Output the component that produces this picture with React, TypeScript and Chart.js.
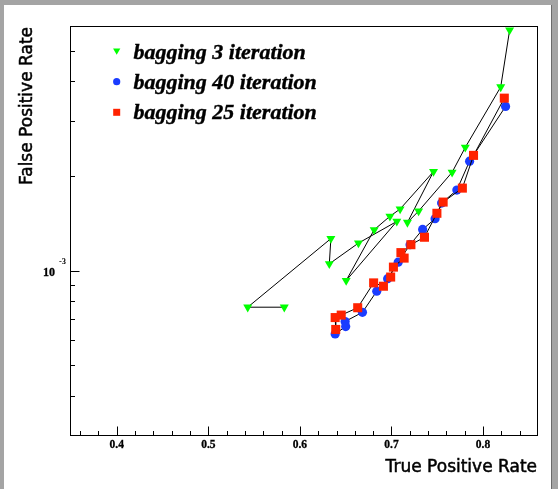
import React, { useEffect, useRef } from "react";
import { Chart, registerables } from "chart.js";

Chart.register(...registerables);

// ---- data ----
const bag3TPR = [0.829, 0.8193, 0.7806, 0.7662, 0.7296, 0.7174, 0.7459, 0.7094, 0.6983, 0.6811, 0.6505, 0.7058, 0.6639, 0.6321, 0.6338, 0.543, 0.5829];
const bag3FPR = [5.82e-3, 3.84e-3, 2.466e-3, 2.055e-3, 1.547e-3, 1.423e-3, 2.066e-3, 1.57e-3, 1.489e-3, 1.349e-3, 9.3e-4, 1.434e-3, 1.223e-3, 1.051e-3, 1.264e-3, 7.65e-4, 7.65e-4];

const bag40TPR = [0.8246, 0.7853, 0.7714, 0.7547, 0.7476, 0.734, 0.7203, 0.7073, 0.6958, 0.6839, 0.6683, 0.6494, 0.65, 0.6385];
const bag40FPR = [3.329e-3, 2.23e-3, 1.804e-3, 1.64e-3, 1.463e-3, 1.352e-3, 1.209e-3, 1.064e-3, 9.43e-4, 8.6e-4, 7.37e-4, 6.89e-4, 6.64e-4, 6.29e-4];

const bag25TPR = [0.8232, 0.7896, 0.7774, 0.7564, 0.7496, 0.736, 0.7212, 0.7103, 0.7138, 0.7021, 0.6991, 0.6912, 0.6805, 0.6631, 0.6451, 0.6385, 0.6391];
const bag25FPR = [3.537e-3, 2.326e-3, 1.83e-3, 1.652e-3, 1.522e-3, 1.277e-3, 1.209e-3, 1.141e-3, 1.096e-3, 1.026e-3, 9.54e-4, 8.92e-4, 9.14e-4, 7.62e-4, 7.22e-4, 7.09e-4, 6.5e-4];

const seriesLabels = ["bagging 3 iteration", "bagging 40 iteration", "bagging 25 iteration"];
const seriesColors = ["#00ff00", "#1a3cff", "#ff2200"];

const xMajorTicks = [0.4, 0.5, 0.6, 0.7, 0.8];
const xTickLabels = ["0.4", "0.5", "0.6", "0.7", "0.8"];
const xMinorTicks = [0.36, 0.38, 0.42, 0.44, 0.46, 0.48, 0.52, 0.54, 0.56, 0.58, 0.62, 0.64, 0.66, 0.68, 0.72, 0.74, 0.76, 0.78, 0.82, 0.84];
const yMajorTicks = [1e-3];
const yTickBase = ["10"];
const yTickExp = ["-3"];
const yMinorTicks = [4e-4, 5e-4, 6e-4, 7e-4, 8e-4, 9e-4, 2e-3, 3e-3, 4e-3, 5e-3];

const xTitle = "True Positive Rate";
const yTitle = "False Positive Rate";

const W = 558;
const H = 489;

function drawMarker(ctx: CanvasRenderingContext2D, kind: string, x: number, y: number, r: number, color: string) {
  ctx.fillStyle = color;
  ctx.beginPath();
  if (kind === "tri") {
    const h = r * 0.866;
    ctx.moveTo(x - h, y - r / 2);
    ctx.lineTo(x + h, y - r / 2);
    ctx.lineTo(x, y + r);
    ctx.closePath();
  } else if (kind === "circle") {
    ctx.arc(x, y, r, 0, Math.PI * 2);
  } else {
    ctx.rect(x - r, y - r, 2 * r, 2 * r);
  }
  ctx.fill();
}

function boldText(ctx: CanvasRenderingContext2D, t: string, x: number, y: number, w: number) {
  ctx.fillText(t, x, y);
  ctx.lineWidth = w;
  ctx.strokeText(t, x, y);
}

const rootPlugin = {
  id: "rootStyle",
  beforeDraw(chart: any) {
    const ctx: CanvasRenderingContext2D = chart.ctx;
    ctx.save();
    ctx.fillStyle = "#a4a4a4";
    ctx.fillRect(0, 0, W, H);
    ctx.fillStyle = "#ffffff";
    ctx.fillRect(4, 5, 547, H - 5);
    ctx.fillStyle = "#6a6a6a";
    ctx.fillRect(551, 5, 1, H - 5);
    ctx.restore();
  },
  beforeDatasetsDraw(chart: any) {
    const ctx: CanvasRenderingContext2D = chart.ctx;
    const { left, top, right, bottom } = chart.chartArea;
    const xs = chart.scales.x;
    const ys = chart.scales.y;
    ctx.save();
    ctx.strokeStyle = "#000";
    ctx.lineWidth = 1;
    ctx.strokeRect(left - 0.5, top + 0.5, right - left, bottom - top);
    const by = bottom + 0.5;
    const lx = left - 0.5;
    ctx.beginPath();
    xMajorTicks.forEach((v) => {
      const px = Math.round(xs.getPixelForValue(v)) + 0.5;
      ctx.moveTo(px, by);
      ctx.lineTo(px, by - 9);
    });
    xMinorTicks.forEach((v) => {
      const px = Math.round(xs.getPixelForValue(v)) + 0.5;
      ctx.moveTo(px, by);
      ctx.lineTo(px, by - 4.5);
    });
    yMajorTicks.forEach((v) => {
      const py = Math.round(ys.getPixelForValue(v)) + 0.5;
      ctx.moveTo(lx, py);
      ctx.lineTo(lx + 9, py);
    });
    yMinorTicks.forEach((v) => {
      const py = Math.round(ys.getPixelForValue(v)) + 0.5;
      ctx.moveTo(lx, py);
      ctx.lineTo(lx + 4.5, py);
    });
    ctx.stroke();

    ctx.fillStyle = "#000";
    ctx.strokeStyle = "#000";
    ctx.font = 'bold 11.5px "Liberation Serif"';
    ctx.textAlign = "center";
    ctx.textBaseline = "alphabetic";
    xMajorTicks.forEach((v, i) => {
      boldText(ctx, xTickLabels[i], xs.getPixelForValue(v), bottom + 12.5, 0.3);
    });
    yMajorTicks.forEach((v, i) => {
      const py = ys.getPixelForValue(v);
      ctx.font = 'bold 12px "Liberation Serif"';
      ctx.textAlign = "right";
      boldText(ctx, yTickBase[i], left - 16, py + 5, 0.3);
      ctx.font = 'bold 8.5px "Liberation Serif"';
      ctx.textAlign = "left";
      ctx.fillText(yTickExp[i], left - 12, py - 6.5);
    });

    ctx.font = '17px "DejaVu Sans"';
    ctx.textAlign = "right";
    boldText(ctx, xTitle, right - 1, 472, 0.5);
    ctx.save();
    ctx.translate(32, top + 1);
    ctx.rotate(-Math.PI / 2);
    ctx.textAlign = "right";
    boldText(ctx, yTitle, 0, 0, 0.5);
    ctx.restore();
    ctx.restore();
  },
  afterDraw(chart: any) {
    const ctx: CanvasRenderingContext2D = chart.ctx;
    ctx.save();
    const kinds = ["tri", "circle", "rect"];
    const sizes = [4.2, 3.6, 3.5];
    const rowsY = [51.5, 81.7, 112.3];
    ctx.font = 'italic bold 22px "Liberation Serif"';
    ctx.textAlign = "left";
    ctx.textBaseline = "alphabetic";
    ctx.strokeStyle = "#000";
    seriesLabels.forEach((lab, i) => {
      drawMarker(ctx, kinds[i], 116.7, rowsY[i] + (i === 0 ? -1 : 0), sizes[i], seriesColors[i]);
      ctx.fillStyle = "#000";
      boldText(ctx, lab, 133.5, rowsY[i] + 7, 0.4);
    });
    ctx.restore();
  },
};

export default function App() {
  const ref = useRef<HTMLCanvasElement>(null);
  useEffect(() => {
    document.body.style.margin = "0";
    const mk = (xs: number[], ys: number[]) => xs.map((x, i) => ({ x, y: ys[i] }));
    const common = {
      showLine: true,
      borderColor: "#000000",
      borderWidth: 1,
      tension: 0,
      pointBorderWidth: 0,
      clip: false as any,
    };
    const chart = new Chart(ref.current as HTMLCanvasElement, {
      type: "scatter",
      data: {
        datasets: [
          {
            ...common,
            label: seriesLabels[2],
            data: mk(bag25TPR, bag25FPR),
            pointStyle: "rect",
            pointRadius: 6.4,
            pointBackgroundColor: seriesColors[2],
            pointBorderColor: seriesColors[2],
          } as any,
          {
            ...common,
            label: seriesLabels[1],
            data: mk(bag40TPR, bag40FPR),
            pointStyle: "circle",
            pointRadius: 4.6,
            pointBackgroundColor: seriesColors[1],
            pointBorderColor: seriesColors[1],
          } as any,
          {
            ...common,
            label: seriesLabels[0],
            data: mk(bag3TPR, bag3FPR),
            pointStyle: "triangle",
            pointRotation: 180,
            pointRadius: 5.2,
            pointBackgroundColor: seriesColors[0],
            pointBorderColor: seriesColors[0],
          } as any,
        ],
      },
      options: {
        animation: false,
        responsive: false,
        maintainAspectRatio: false,
        devicePixelRatio: 1,
        events: [],
        layout: { padding: { left: 71, top: 26, right: 20, bottom: 54 } },
        scales: {
          x: { type: "linear", min: 0.35, max: 0.86, display: false },
          y: { type: "logarithmic", min: 3e-4, max: 6e-3, display: false },
        },
        plugins: { legend: { display: false }, tooltip: { enabled: false } },
      },
      plugins: [rootPlugin],
    });
    return () => chart.destroy();
  }, []);
  return (
    <canvas
      ref={ref}
      width={W}
      height={H}
      style={{ display: "block", width: W, height: H }}
    />
  );
}
